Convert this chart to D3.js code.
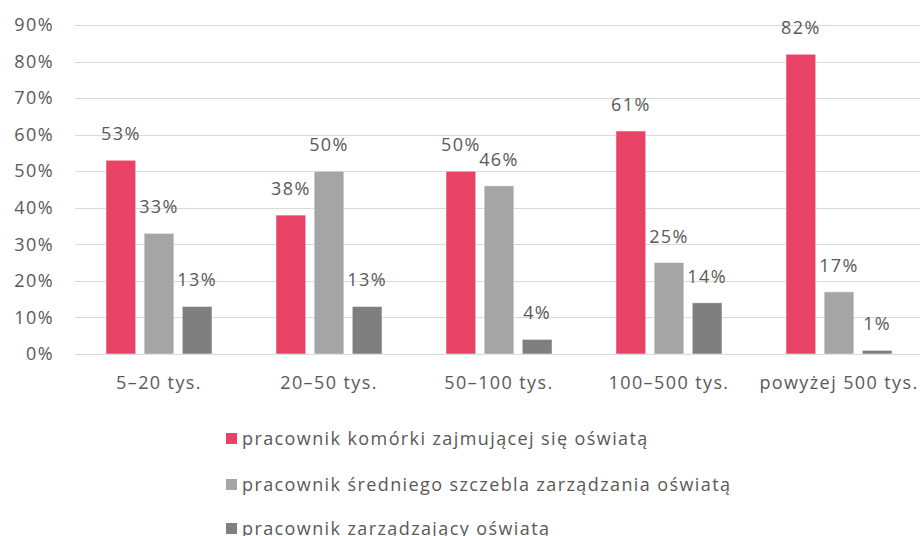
<!DOCTYPE html>
<html>
<head>
<meta charset="utf-8">
<script src="https://cdn.jsdelivr.net/npm/d3@7"></script>
<style>
  body { margin: 0; background: #fff; }
  text { font-family: "Open Sans", sans-serif; fill: #595959; letter-spacing: 1.4px; }
</style>
</head>
<body>
<div id="chart"></div>
<script>
// categories and series
var categories = ["5–20 tys.", "20–50 tys.", "50–100 tys.", "100–500 tys.", "powyżej 500 tys."]
var seriesNames = [
    "pracownik komórki zajmującej się oświatą",
    "pracownik średniego szczebla zarządzania oświatą",
    "pracownik zarządzający oświatą"
]
var komorka = [53, 38, 50, 61, 82]
var srednio = [33, 50, 46, 25, 17]
var zarzadzajacy = [13, 13, 4, 14, 1]
var yTicks = [0, 10, 20, 30, 40, 50, 60, 70, 80, 90]

var seriesValues = [komorka, srednio, zarzadzajacy]
var colors = ["#E84367", "#A5A5A5", "#7F7F7F"]

var width = 920,
    height = 536

var svg = d3.select("#chart")
    .append("svg")
    .attr("width", width)
    .attr("height", height)

// scales
var x0 = d3.scaleBand()
    .domain(categories)
    .range([74, 924])

var x1 = d3.scaleBand()
    .domain([0, 1, 2])
    .range([32, 138])
    .paddingInner(0.22)

var y = d3.scaleLinear()
    .domain([0, 90])
    .range([354, 25])

// gridlines
svg.append("g")
    .selectAll("line")
    .data(yTicks)
    .enter()
    .append("line")
    .attr("x1", 75)
    .attr("x2", 920)
    .attr("y1", function (d) { return Math.round(y(d)) + 0.5 })
    .attr("y2", function (d) { return Math.round(y(d)) + 0.5 })
    .attr("stroke", "#D9D9D9")
    .attr("stroke-width", 1.2)

// y axis labels
var yAxis = svg.append("g")
    .attr("transform", "translate(54,0)")
    .call(d3.axisLeft(y).tickValues(yTicks).tickSize(0).tickPadding(0)
        .tickFormat(function (d) { return d + "%" }))
yAxis.select(".domain").remove()
yAxis.selectAll("text")
    .style("font-size", "18px")
    .attr("fill", "#595959")
    .style("font-family", "'Open Sans', sans-serif")

// x axis labels
var xAxis = svg.append("g")
    .attr("transform", "translate(0,376)")
    .call(d3.axisBottom(x0).tickSize(0).tickPadding(0))
xAxis.select(".domain").remove()
xAxis.selectAll("text")
    .style("font-size", "18px")
    .attr("fill", "#595959")
    .style("font-family", "'Open Sans', sans-serif")

// bars
var groups = svg.selectAll("g.group")
    .data(categories)
    .enter()
    .append("g")
    .attr("class", "group")
    .attr("transform", function (d) { return "translate(" + x0(d) + ",0)" })

groups.selectAll("rect")
    .data(function (d, i) {
        return seriesValues.map(function (s, k) { return { k: k, v: s[i] } })
    })
    .enter()
    .append("rect")
    .attr("x", function (d) { return x1(d.k) })
    .attr("y", function (d) { return y(d.v) })
    .attr("width", x1.bandwidth())
    .attr("height", function (d) { return y(0) - y(d.v) })
    .attr("fill", function (d) { return colors[d.k] })
    .attr("stroke", "#fff")
    .attr("stroke-opacity", 0.6)
    .attr("stroke-width", 0.8)

// data labels
groups.selectAll("text.lbl")
    .data(function (d, i) {
        return seriesValues.map(function (s, k) { return { k: k, v: s[i] } })
    })
    .enter()
    .append("text")
    .attr("class", "lbl")
    .attr("x", function (d) { return x1(d.k) + x1.bandwidth() / 2 })
    .attr("y", function (d) { return y(d.v) - 20 })
    .attr("text-anchor", "middle")
    .style("font-size", "18px")
    .text(function (d) { return d.v + "%" })

// legend
var legend = svg.selectAll("g.legend")
    .data(seriesNames)
    .enter()
    .append("g")
    .attr("class", "legend")
    .attr("transform", function (d, i) { return "translate(226," + [439, 485, 529][i] + ")" })

legend.append("rect")
    .attr("x", 0)
    .attr("y", -6)
    .attr("width", 11)
    .attr("height", 11)
    .attr("fill", function (d, i) { return colors[i] })

legend.append("text")
    .attr("x", 16)
    .attr("y", 0)
    .attr("dy", "0.35em")
    .style("font-size", "18px")
    .text(function (d) { return d })
</script>
</body>
</html>
